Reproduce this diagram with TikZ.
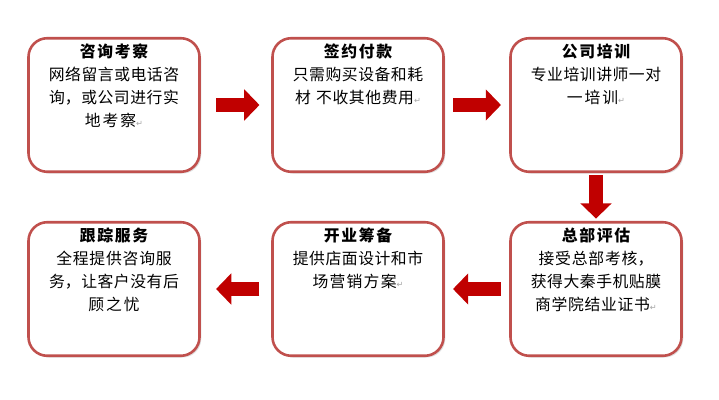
\documentclass[tikz,border=0pt]{standalone}
\usepackage{fontspec}
\setmainfont{Noto Sans CJK SC}
\newfontfamily\symfont{DejaVu Sans}
\XeTeXlinebreaklocale "zh"
\XeTeXlinebreakskip=0pt plus 1pt
\usetikzlibrary{arrows.meta,shadows}
\definecolor{boxred}{HTML}{C0504D}
\definecolor{arrowred}{HTML}{C00000}
\newcommand{\ret}{{\color{gray!70}\symfont\scriptsize ↵}}
\tikzset{
  stepbox/.style={draw=boxred, line width=2.2pt, rounded corners=16pt, fill=white,
    drop shadow={shadow xshift=1.5pt, shadow yshift=-1.5pt, opacity=.25},
    minimum width=146pt, minimum height=114pt, inner sep=0pt},
  steptext/.style={align=center, text width=135pt, anchor=north, font=\fontsize{13.5}{19.5}\selectfont, inner sep=0pt},
  flow/.style={arrowred, line width=12pt, -{Triangle[length=13pt,width=26pt]}}
}
\begin{document}
\begin{tikzpicture}[x=0.03cm, y=-0.03cm]
\useasboundingbox (0,0) rectangle (719,400);

% --- boxes ---
\node[stepbox] (b1) at (114,105) {};
\node[stepbox] (b2) at (358,105) {};
\node[stepbox] (b3) at (596,105) {};
\node[stepbox] (b4) at (114,289) {};
\node[stepbox] (b5) at (358,289) {};
\node[stepbox] (b6) at (596,289) {};

% --- texts ---
\node[steptext] (t1) at (114,44) {\textbf{咨询考察}\\网络留言或电话咨\\询，或公司进行实\\地考察\ret};
\node[steptext] (t2) at (358,44) {\textbf{签约付款}\\只需购买设备和耗\\材\ 不收其他费用\ret};
\node[steptext] (t3) at (596,44) {\textbf{公司培训}\\专业培训讲师一对\\一培训\ret};
\node[steptext] (t4) at (114,228) {\textbf{跟踪服务}\\全程提供咨询服\\务，让客户没有后\\顾之忧};
\node[steptext] (t5) at (358,228) {\textbf{开业筹备}\\提供店面设计和市\\场营销方案\ret};
\node[steptext] (t6) at (596,228) {\textbf{总部评估}\\接受总部考核，\\获得大秦手机贴膜\\商学院结业证书\ret};

% --- arrows ---
\draw[flow, shorten <=13pt, shorten >=10pt] (b1.east) -- (b2.west);
\draw[flow, shorten <=7pt, shorten >=7pt] (b2.east) -- (b3.west);
\draw[flow, shorten <=2pt, shorten >=2pt] (b3.south) -- (b6.north);
\draw[flow, shorten <=7pt, shorten >=7pt] (b6.west) -- (b5.east);
\draw[flow, shorten <=10pt, shorten >=13pt] (b5.west) -- (b4.east);

\end{tikzpicture}
\end{document}
